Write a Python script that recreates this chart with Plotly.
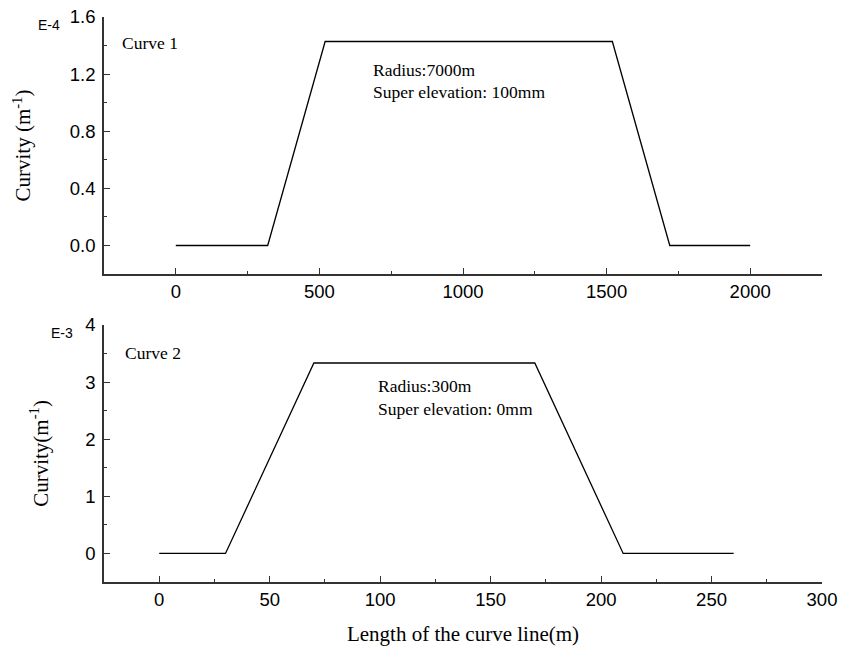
import plotly.graph_objects as go

# Curve 1 (Radius 7000 m, super elevation 100 mm), curvature in units of 1e-4 m^-1
x1 = [0, 320, 520, 1520, 1720, 2000]
y1 = [0.0, 0.0, 1.4286, 1.4286, 0.0, 0.0]

# Curve 2 (Radius 300 m, super elevation 0 mm), curvature in units of 1e-3 m^-1
x2 = [0, 30, 70, 170, 210, 260]
y2 = [0.0, 0.0, 3.333, 3.333, 0.0, 0.0]

x1_ticks = [0, 500, 1000, 1500, 2000]
y1_ticks = [0.0, 0.4, 0.8, 1.2, 1.6]
x2_ticks = [0, 50, 100, 150, 200, 250, 300]
y2_ticks = [0, 1, 2, 3, 4]

SERIF = "Liberation Serif, Times New Roman, serif"
SANS = "Liberation Sans, Arial, sans-serif"
AX = "#333333"
TICKSIZE = 18.5

fig = go.Figure()
fig.add_trace(go.Scatter(x=x1, y=y1, mode="lines", line=dict(color="black", width=1.3),
                         xaxis="x", yaxis="y", showlegend=False))
fig.add_trace(go.Scatter(x=x2, y=y2, mode="lines", line=dict(color="black", width=1.3),
                         xaxis="x2", yaxis="y2", showlegend=False))

def xax(rng, ticks, minor, anchor):
    return dict(range=rng, tickvals=ticks, showgrid=False, zeroline=False,
                showline=True, linecolor=AX, linewidth=1.5,
                ticks="inside", ticklen=6, tickwidth=1.2, tickcolor=AX,
                minor=dict(dtick=minor, ticks="inside", ticklen=3, tickwidth=1, tickcolor=AX, showgrid=False),
                tickfont=dict(family=SANS, size=TICKSIZE, color="black"),
                anchor=anchor, domain=[0, 1], automargin=False)

def yax(rng, ticks, minor, anchor, domain, fmt, title, standoff):
    return dict(range=rng, tickvals=ticks, tickformat=fmt, showgrid=False, zeroline=False,
                showline=True, linecolor=AX, linewidth=1.5,
                ticks="inside", ticklen=6, tickwidth=1.2, tickcolor=AX,
                minor=dict(dtick=minor, ticks="inside", ticklen=3, tickwidth=1, tickcolor=AX, showgrid=False),
                tickfont=dict(family=SANS, size=TICKSIZE, color="black"),
                ticklabelstandoff=3,
                title=dict(text=title, font=dict(family=SERIF, size=21, color="black"), standoff=standoff),
                anchor=anchor, domain=domain, automargin=False)

xa1 = xax([-250, 2250], x1_ticks, 250, "y")
xa2 = xax([-25, 300], x2_ticks, 25, "y2")
xa2["title"] = dict(text="Length of the curve line(m)", font=dict(family=SERIF, size=21, color="black"), standoff=18)

fig.update_layout(
    width=854, height=646,
    margin=dict(l=104, r=32, t=17, b=64),
    paper_bgcolor="white", plot_bgcolor="white",
    xaxis=xa1,
    yaxis=yax([-0.2, 1.6], y1_ticks, 0.2, "x", [0.545, 1.0], ".1f", "Curvity (m<sup>-1</sup>)", 33),
    xaxis2=xa2,
    yaxis2=yax([-0.5, 4], y2_ticks, 0.5, "x2", [0.0, 0.455], "d", "Curvity(m<sup>-1</sup>)", 31),
)

TXT = dict(family=SERIF, size=17.5, color="black")
ann = [
    dict(text="Curve 1", x=-194, y=1.418, xref="x", yref="y", xanchor="left", yanchor="middle",
         font=TXT, showarrow=False),
    dict(text="Radius:7000m", x=678, y=1.228, xref="x", yref="y", xanchor="left", yanchor="middle",
         font=TXT, showarrow=False),
    dict(text="Super elevation: 100mm", x=678, y=1.074, xref="x", yref="y", xanchor="left", yanchor="middle",
         font=TXT, showarrow=False),
    dict(text="Curve 2", x=-16.5, y=3.51, xref="x2", yref="y2", xanchor="left", yanchor="middle",
         font=TXT, showarrow=False),
    dict(text="Radius:300m", x=97.9, y=2.93, xref="x2", yref="y2", xanchor="left", yanchor="middle",
         font=TXT, showarrow=False),
    dict(text="Super elevation: 0mm", x=97.9, y=2.53, xref="x2", yref="y2", xanchor="left", yanchor="middle",
         font=TXT, showarrow=False),
    dict(text="E-4", x=-0.0766, y=0.986, xref="paper", yref="paper", xanchor="center", yanchor="middle",
         font=dict(family=SANS, size=14, color="black"), showarrow=False),
    dict(text="E-3", x=-0.0585, y=0.4407, xref="paper", yref="paper", xanchor="center", yanchor="middle",
         font=dict(family=SANS, size=14, color="black"), showarrow=False),
]
fig.update_layout(annotations=ann)

fig.write_html("out.html")
